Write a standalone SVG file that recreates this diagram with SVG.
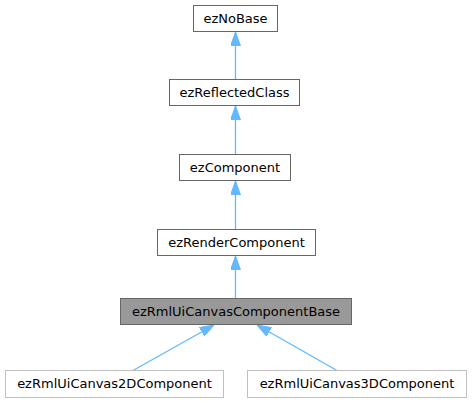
<svg xmlns="http://www.w3.org/2000/svg" width="472" height="403" viewBox="0 0 472 403">
<style>
  .box rect { fill: #ffffff; stroke: #666666; stroke-width: 1; }
  .box.cur rect { fill: #999999; stroke: #666666; }
  .box.leaf rect { fill: #ffffff; stroke: #bfbfbf; }
  .box text { font-family: "DejaVu Sans", sans-serif; font-size: 13px; fill: #000000; text-anchor: middle; }
  .edge { stroke: #63b8ff; stroke-width: 1.3; fill: none; marker-end: url(#arr); }
</style>
<defs>
  <marker id="arr" markerUnits="userSpaceOnUse" viewBox="0 0 14 10" refX="14" refY="5" markerWidth="14" markerHeight="10" orient="auto">
    <path d="M0,0 L14,5 L0,10 z" fill="#63b8ff" stroke="#63b8ff" stroke-width="1"/>
  </marker>
</defs>
<g id="edges">
  <line class="edge" x1="235.5" y1="79" x2="235.5" y2="32"/>
  <line class="edge" x1="235.5" y1="154" x2="235.5" y2="106"/>
  <line class="edge" x1="235.5" y1="229" x2="235.5" y2="181"/>
  <line class="edge" x1="235.5" y1="298.5" x2="235.5" y2="256"/>
  <line class="edge" x1="133" y1="370.5" x2="214" y2="325"/>
  <line class="edge" x1="337" y1="370.5" x2="257" y2="325"/>
</g>
<g id="ezNoBase" class="box">
  <rect x="193.5" y="5.5" width="84" height="26"/>
  <text x="235.5" y="22.5">ezNoBase</text>
</g>
<g id="ezReflectedClass" class="box">
  <rect x="169.5" y="79.5" width="130" height="26"/>
  <text x="234.5" y="96.5">ezReflectedClass</text>
</g>
<g id="ezComponent" class="box">
  <rect x="179.5" y="154.5" width="111" height="26"/>
  <text x="235" y="171.5">ezComponent</text>
</g>
<g id="ezRenderComponent" class="box">
  <rect x="157.5" y="229.5" width="158" height="26"/>
  <text x="236.5" y="246.5">ezRenderComponent</text>
</g>
<g id="ezRmlUiCanvasComponentBase" class="box cur">
  <rect x="120.5" y="298.5" width="231" height="26"/>
  <text x="236" y="315.5">ezRmlUiCanvasComponentBase</text>
</g>
<g id="ezRmlUiCanvas2DComponent" class="box leaf">
  <rect x="5.5" y="370.5" width="218" height="27"/>
  <text x="114.5" y="388">ezRmlUiCanvas2DComponent</text>
</g>
<g id="ezRmlUiCanvas3DComponent" class="box leaf">
  <rect x="247.5" y="370.5" width="219" height="27"/>
  <text x="357" y="388">ezRmlUiCanvas3DComponent</text>
</g>
</svg>
